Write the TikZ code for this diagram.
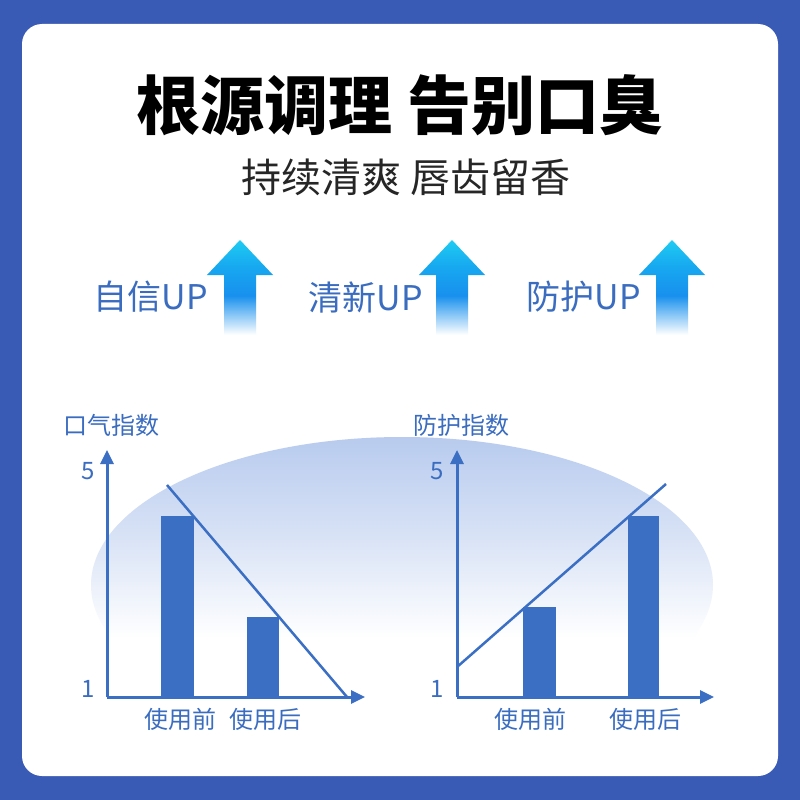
\documentclass[tikz,border=0pt]{standalone}
\usepackage{fontspec}
\setmainfont{Noto Sans CJK SC}
\usepackage{tikz}
\usetikzlibrary{positioning}
\usetikzlibrary{arrows.meta}
\usetikzlibrary{calc}

\definecolor{framecol}{HTML}{3A5BB5}
\definecolor{barcol}{HTML}{3B6FC4}
\definecolor{textcol}{HTML}{3A6CC0}
\definecolor{arrowcyan}{HTML}{1ECCF2}
\definecolor{arrowmid}{HTML}{17A8F0}
\definecolor{arrowblue}{HTML}{1890EE}
\definecolor{ellcol}{HTML}{B8CBEE}

\pgfdeclareverticalshading{upfade}{100bp}{color(0bp)=(white); color(25bp)=(white); color(29bp)=(white); color(48bp)=(arrowblue); color(62bp)=(arrowmid); color(75bp)=(arrowcyan); color(100bp)=(arrowcyan)}
\pgfdeclareverticalshading{ellfade}{100bp}{color(0bp)=(white); color(25bp)=(white); color(41bp)=(white); color(60bp)=(ellcol!60); color(75bp)=(ellcol); color(100bp)=(ellcol)}

\tikzset{
	title/.style = {font=\fontsize{64}{64}\selectfont\bfseries, text=black},
	subtitle/.style = {font=\fontsize{40}{40}\selectfont, text=black!85},
	uplabel/.style = {font=\fontsize{34}{34}\selectfont, text=textcol},
	small/.style = {font=\fontsize{24}{24}\selectfont, text=textcol},
	bar/.style = {fill=barcol, draw=none, inner sep=0pt, anchor=south west, minimum width=33pt},
	axis/.style = {draw=barcol, line width=3pt, -{Triangle[length=14pt,width=13pt]}},
	trend/.style = {draw=barcol, line width=2.5pt}
}

\begin{document}
\begin{tikzpicture}[x=1pt,y=-1pt]
	\useasboundingbox (0,0) rectangle (800,800);
	\fill[framecol] (0,0) rectangle (800,800);
	\fill[white,rounded corners=20pt] (22,24) rectangle (778,776);

	% headings
	\node[title] at (400,105) (head) {根源调理 告别口臭};
	\node[subtitle] at (406,177) (sub) {持续清爽 唇齿留香};

	% arrows with labels
	\foreach \cx/\lab/\lx/\nm in {240/自信UP/151/a, 452/清新UP/366/b, 672/防护UP/584/c}{
		\shade[shading=upfade] (\cx-16,343) -- (\cx-16,275) -- (\cx-33,275) -- (\cx,240)
			-- (\cx+33,275) -- (\cx+16,275) -- (\cx+16,343) -- cycle;
		\node[uplabel] at (\lx,297) (up\nm) {\lab};
	}

	% background ellipse
	\shade[shading=ellfade] (402,585) ellipse [x radius=311, y radius=148];

	% left chart
	\coordinate (lo) at (107,697);
	\coordinate (ly) at (107,450);
	\coordinate (lx) at (365,697);
	\node[small, anchor=west] at (60,425) (ltitle) {口气指数};
	\node[small] at (88,471) (lfive) {5};
	\node[small] at (88,689) (lone) {1};
	\node[bar, minimum height=181pt] at (161,697) (lb1) {};
	\node[bar, minimum height=80pt, minimum width=32pt] at (247,697) (lb2) {};
	\node[small] at (180,719) (lbefore) {使用前};
	\node[small] at (265,719) (lafter) {使用后};
	\draw[axis] (lo) -- (ly);
	\draw[axis] (lo) -- (lx);
	\coordinate (lt1) at (167,485);
	\coordinate (lt2) at (347,697);
	\draw[trend] (lt1) -- (lt2);

	% right chart
	\coordinate (ro) at (457,697);
	\coordinate (ry) at (457,450);
	\coordinate (rx) at (714,697);
	\node[small, anchor=west] at (410,425) (rtitle) {防护指数};
	\node[small] at (437,471) (rfive) {5};
	\node[small] at (437,689) (rone) {1};
	\node[bar, minimum height=90pt] at (523,697) (rb1) {};
	\node[bar, minimum height=181pt, minimum width=31pt] at (628,697) (rb2) {};
	\node[small] at (530,719) (rbefore) {使用前};
	\node[small] at (645,719) (rafter) {使用后};
	\draw[axis] (ro) -- (ry);
	\draw[axis] (ro) -- (rx);
	\coordinate (rt1) at (457,667);
	\coordinate (rt2) at (666,484);
	\draw[trend] (rt1) -- (rt2);
\end{tikzpicture}
\end{document}
